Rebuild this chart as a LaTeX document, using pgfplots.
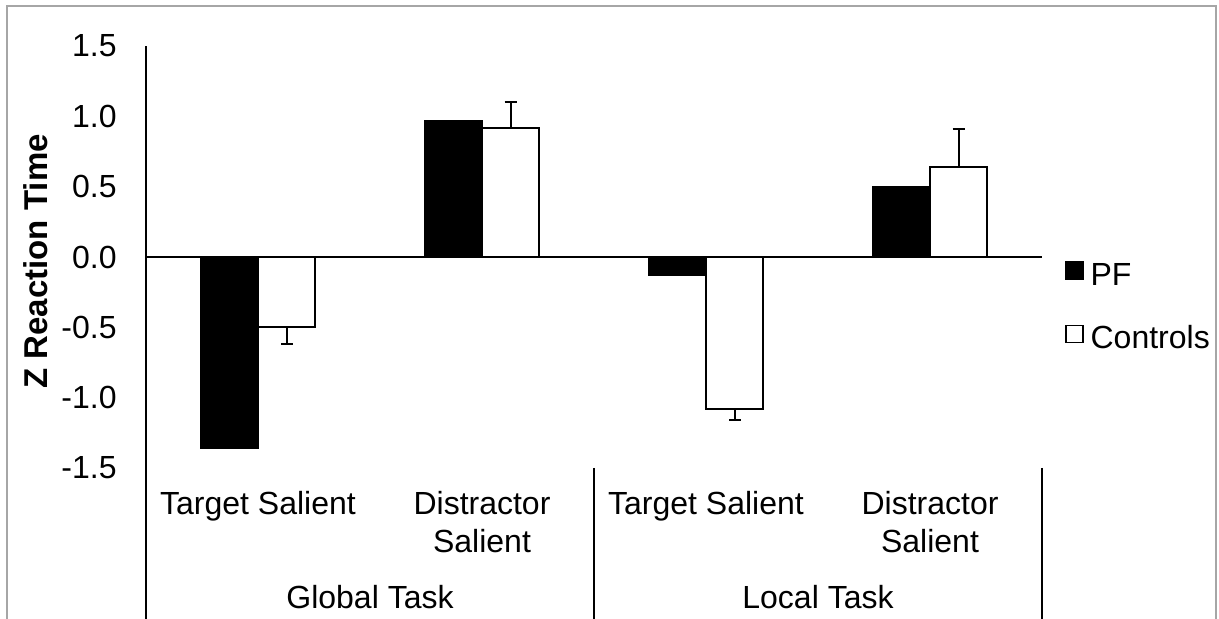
\documentclass[border=0pt]{standalone}
\usepackage{fontspec}
\setmainfont{Liberation Sans}
\usepackage{pgfplots}
\pgfplotsset{compat=1.18}
\begin{document}
\begin{tikzpicture}[font=\fontsize{16}{19}\selectfont]
\useasboundingbox (0,0) rectangle (609.5pt,-309.5pt);
\draw[color=gray!70, line width=1pt] (3.5pt,-320pt) -- (3.5pt,-3pt) -- (608pt,-3pt) -- (608pt,-320pt);
\node[rotate=90, anchor=base, font=\fontsize{16.5}{19}\selectfont\bfseries] at (23.5pt,-130.7pt) {Z Reaction Time};
\begin{axis}[
  at={(73pt,-23pt)}, anchor=north west,
  scale only axis, width=448pt, height=211pt,
  xmin=0, xmax=4, ymin=-1.5, ymax=1.5,
  clip=false,
  axis x line=none, axis y line=left,
  y axis line style={-, line width=1pt, black},
  ytick={-1.5,-1,-0.5,0,0.5,1,1.5},
  yticklabels={-1.5,-1.0,-0.5,0.0,0.5,1.0,1.5},
  major tick length=0pt,
  yticklabel style={anchor=east, inner sep=0pt, xshift=-14.5pt, font=\fontsize{16}{19}\selectfont},
  xtick=\empty,
  ybar=0pt, bar width=28.5pt,
  legend style={at={(1.0257,0.4905)}, anchor=north west, draw=none, fill=none,
    inner sep=0pt, row sep=18.3pt, column sep=3.5pt, nodes={inner sep=0pt},
    font=\fontsize{16}{19}\selectfont},
  legend cell align=left,
  legend image code/.code={\draw[#1, line width=0.6pt] (0pt,-1.75pt) rectangle (8.5pt,6.75pt);},
]
\draw[black, line width=1pt] (axis cs:0,0) -- (axis cs:4,0);
\addplot[fill=black, draw=black, line width=1pt] coordinates {(0.5,-1.36) (1.5,0.97) (2.5,-0.13) (3.5,0.50)};
\addlegendentry{PF}
\addplot[fill=white, draw=black, line width=1pt,
  error bars/.cd, y dir=both, y explicit,
  error bar style={line width=1pt, black},
  error mark options={black, line width=1pt, mark size=3pt, rotate=90}]
  coordinates {(0.5,-0.50) += (0,0) -= (0,0.12)
               (1.5,0.92) += (0,0.18) -= (0,0)
               (2.5,-1.08) += (0,0) -= (0,0.08)
               (3.5,0.64) += (0,0.27) -= (0,0)};
\addlegendentry{Controls}
\draw[black, line width=1pt] (axis cs:0,-1.5) -- ([yshift=-80pt]axis cs:0,-1.5);
\draw[black, line width=1pt] (axis cs:2,-1.5) -- ([yshift=-80pt]axis cs:2,-1.5);
\draw[black, line width=1pt] (axis cs:4,-1.5) -- ([yshift=-80pt]axis cs:4,-1.5);
\node[anchor=base, yshift=-23.5pt] at (axis cs:0.5,-1.5) {Target Salient};
\node[anchor=base, yshift=-23.5pt] at (axis cs:1.5,-1.5) {Distractor};
\node[anchor=base, yshift=-42.5pt] at (axis cs:1.5,-1.5) {Salient};
\node[anchor=base, yshift=-23.5pt] at (axis cs:2.5,-1.5) {Target Salient};
\node[anchor=base, yshift=-23.5pt] at (axis cs:3.5,-1.5) {Distractor};
\node[anchor=base, yshift=-42.5pt] at (axis cs:3.5,-1.5) {Salient};
\node[anchor=base, yshift=-70.25pt] at (axis cs:1,-1.5) {Global Task};
\node[anchor=base, yshift=-70.25pt] at (axis cs:3,-1.5) {Local Task};
\end{axis}
\end{tikzpicture}
\end{document}
